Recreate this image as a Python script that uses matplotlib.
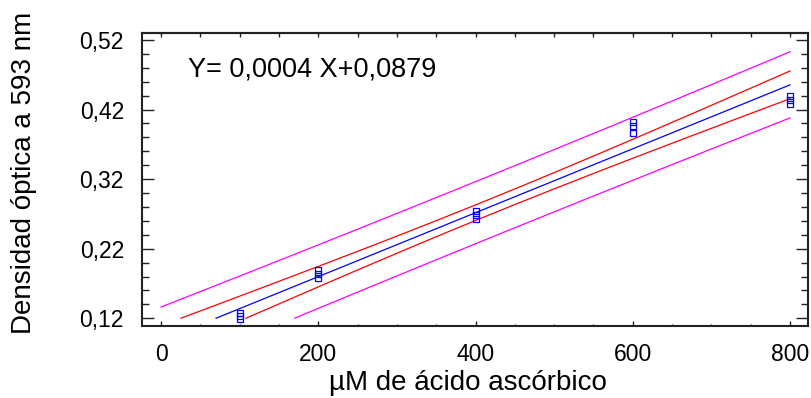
import numpy as np
import matplotlib
matplotlib.use('Agg')
import matplotlib.pyplot as plt
from matplotlib.ticker import MultipleLocator, FuncFormatter, NullFormatter

# ---- data ----
conc = [100, 100, 100, 200, 200, 200, 400, 400, 400, 600, 600, 600, 800, 800, 800]
od = [0.128, 0.123, 0.119, 0.189, 0.184, 0.178, 0.274, 0.269, 0.263,
      0.402, 0.397, 0.387, 0.439, 0.434, 0.428]
equation = "Y= 0,0004 X+0,0879"
x_ticks = [0, 200, 400, 600, 800]
y_ticks = [0.12, 0.22, 0.32, 0.42, 0.52]
x_label = "µM de ácido ascórbico"
y_label = "Densidad óptica a 593 nm"
t_crit = 2.160      # Student t (0.975, df = 13)
y_floor = 0.12      # curves are drawn down to this level only

plt.rcParams['font.family'] = ['Liberation Sans', 'DejaVu Sans']

x = np.asarray(conc, float)
y = np.asarray(od, float)
n = len(x)
b, a = np.polyfit(x, y, 1)
resid = y - (a + b * x)
s = np.sqrt(np.sum(resid ** 2) / (n - 2))
sxx = np.sum((x - x.mean()) ** 2)

xg = np.linspace(0, 800, 1601)
fit = a + b * xg
se_mean = s * np.sqrt(1 / n + (xg - x.mean()) ** 2 / sxx)
se_pred = s * np.sqrt(1 + 1 / n + (xg - x.mean()) ** 2 / sxx)

def clip(v):
    v = v.copy()
    v[v < y_floor] = np.nan
    return v

fig = plt.figure(figsize=(8.11, 3.98), dpi=100)
ax = fig.add_axes([0.1751, 0.1809, 0.8212, 0.7369])

lw = 0.9
ax.plot(xg, clip(fit + t_crit * se_pred), color='#ff00ff', lw=lw)
ax.plot(xg, clip(fit - t_crit * se_pred), color='#ff00ff', lw=lw)
ax.plot(xg, clip(fit + t_crit * se_mean), color='#ff0000', lw=lw)
ax.plot(xg, clip(fit - t_crit * se_mean), color='#ff0000', lw=lw)
ax.plot(xg, clip(fit), color='#0000ff', lw=lw)
ax.plot(x, y, linestyle='none', marker='s', markersize=4.2,
        markerfacecolor='none', markeredgecolor='#0000ff', markeredgewidth=0.9)

ax.set_xlim(-24.2, 822.9)
ax.set_ylim(0.1089, 0.5305)

ax.set_xticks(x_ticks)
ax.xaxis.set_minor_locator(MultipleLocator(50))
ax.set_yticks(y_ticks)
ax.yaxis.set_minor_locator(MultipleLocator(0.02))
ax.yaxis.set_major_formatter(FuncFormatter(lambda v, p: f"{v:.2f}".replace('.', ',')))
ax.xaxis.set_major_formatter(FuncFormatter(lambda v, p: f"{v:.0f}"))

ax.tick_params(axis='x', which='major', direction='in', length=3.6, width=1.0,
               top=False, labelsize=16.5, pad=12, colors='#222222', labelcolor='black')
ax.tick_params(axis='x', which='minor', direction='in', length=1.8, width=1.0, top=False,
               colors='#222222')
ax.tick_params(axis='y', which='major', direction='in', length=8.6, width=1.0,
               right=True, labelsize=16.5, pad=13, colors='#222222', labelcolor='black')
ax.tick_params(axis='y', which='minor', direction='in', length=5.0, width=1.0, right=True,
               colors='#222222')

sec = ax.secondary_xaxis('top')
sec.xaxis.set_major_locator(MultipleLocator(50))
sec.xaxis.set_major_formatter(NullFormatter())
sec.tick_params(direction='in', length=2.9, width=1.0, colors='#222222')
sec.spines['top'].set_linewidth(1.5)
sec.spines['top'].set_color('#222222')

for sp in ax.spines.values():
    sp.set_linewidth(1.5)
    sp.set_color('#222222')

ax.set_xlabel(x_label, fontsize=20, va='center')
ax.xaxis.set_label_coords(0.489, -0.194)
ax.set_ylabel(y_label, fontsize=20, va='center')
ax.yaxis.set_label_coords(-0.177, 0.522)

ax.text(34, 0.477, equation, fontsize=19.5, ha='left', va='center')

fig.savefig('out.png', dpi=100)
